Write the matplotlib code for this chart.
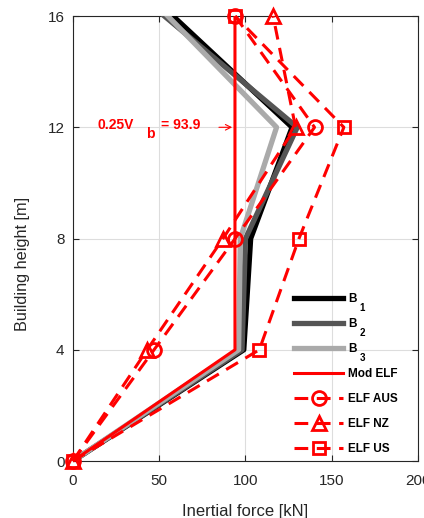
import matplotlib
matplotlib.use("Agg")
import matplotlib.pyplot as plt

plt.rcParams['font.family'] = ['Liberation Sans', 'DejaVu Sans']

height = [0, 4, 8, 12, 16]
b1 = [0, 99, 103, 127, 58]
b2 = [0, 98, 100, 130, 53]
b3 = [0, 96, 97, 118, 55]
mod_elf = [0, 93.9, 93.9, 93.9, 93.9]
elf_aus = [0, 47, 94, 140, 94]
elf_nz = [0, 43, 87, 129, 116]
elf_us = [0, 108, 131, 157, 94]
xticks = [0, 50, 100, 150, 200]
yticks = [0, 4, 8, 12, 16]
vb_value = 93.9

fig = plt.figure(figsize=(4.24, 5.18), dpi=100)
ax = fig.add_axes([0.172, 0.110, 0.814, 0.859])

ax.plot(b1, height, color='black', lw=3.8, label='B', zorder=3)
ax.plot(b2, height, color='#555555', lw=3.8, label='B', zorder=3)
ax.plot(b3, height, color='#aaaaaa', lw=3.8, label='B', zorder=3)
ax.plot(mod_elf, height, color='red', lw=2.2, label='Mod ELF', zorder=4)
dash = (4.5, 2.8)
kw = dict(color='red', lw=2.2, markerfacecolor='none',
          markeredgewidth=2.0, clip_on=False, zorder=5)
l1, = ax.plot(elf_aus, height, marker='o', markersize=10, label='ELF AUS', **kw)
l2, = ax.plot(elf_nz, height, marker='^', markersize=10, label='ELF NZ', **kw)
l3, = ax.plot(elf_us, height, marker='s', markersize=8, label='ELF US', **kw)
for l in (l1, l2, l3):
    l.set_dashes(dash)

ax.set_xlim(0, 200)
ax.set_ylim(0, 16)
ax.set_xticks(xticks)
ax.set_yticks(yticks)
ax.grid(True, color='#dddddd', lw=0.8)
ax.set_axisbelow(True)
ax.tick_params(direction='in', top=True, right=True, labelsize=11, length=4,
               colors='#262626')
ax.tick_params(axis='x', pad=9)
ax.tick_params(axis='y', pad=6)
for s in ax.spines.values():
    s.set_color('#262626')
    s.set_linewidth(0.8)
ax.set_xlabel('Inertial force [kN]', fontsize=12, color='#262626', labelpad=12)
ax.set_ylabel('Building height [m]', fontsize=11.7, color='#262626', va='center')
ax.yaxis.set_label_coords(-0.145, 0.443)

# annotation
ax.annotate('', xy=(vb_value, 12), xytext=(83, 12),
            arrowprops=dict(arrowstyle='->', color='red', lw=0.8), zorder=6)
ax.text(14, 12.1, '0.25V', color='red', fontsize=10, fontweight='bold', va='center')
ax.text(42.5, 11.75, 'b', color='red', fontsize=10, fontweight='bold', va='center')
ax.text(51, 12.1, '= 93.9', color='red', fontsize=10, fontweight='bold', va='center')

leg = ax.legend(loc='lower right', bbox_to_anchor=(0.962, -0.002), frameon=False,
                prop={'weight': 'bold', 'size': 8.5}, handlelength=4.1,
                handletextpad=0.45, labelspacing=1.1, borderaxespad=0.2)
texts = leg.get_texts()
fig.canvas.draw()
for i, t in enumerate(texts[:3]):
    bb = t.get_window_extent()
    x0, y0 = fig.transFigure.inverted().transform((bb.x1 + 3, bb.y0 - 8))
    fig.text(x0, y0, str(i + 1), fontsize=7, fontweight='bold', va='bottom')

fig.savefig('out.png', dpi=100)
